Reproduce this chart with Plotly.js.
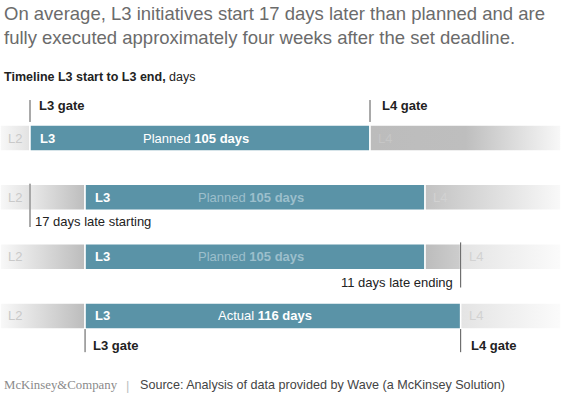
<!DOCTYPE html>
<html>
<head>
<meta charset="utf-8">
<script src="https://cdn.plot.ly/plotly-3.0.1.min.js"></script>
<style>html,body{margin:0;padding:0;background:#fff;}#chart{width:561px;height:397px;}</style>
</head>
<body>
<div id="chart"></div>
<script>
// ---- data ----
const plannedDays = 105;
const startDelay = 17;
const endDelay = 11;
const actualDays = 116;
const rowNames = ['Planned', 'Late start', 'Late end', 'Actual'];
const titleLines = ['On average, L3 initiatives start 17 days later than planned and are',
                    'fully executed approximately four weeks after the set deadline.'];
const subtitleBold = 'Timeline L3 start to L3 end,';
const subtitleRest = ' days';
const sourceText = 'Source: Analysis of data provided by Wave (a McKinsey Solution)';

// ---- geometry (axes) ----
const W = 561, H = 397;
const pxPerDay = 340 / plannedDays;
const xMin = -30 / pxPerDay, xMax = (W - 30) / pxPerDay;
const rowPx = 59.33, row0Px = 138;
const yTop = -row0Px / rowPx, yBot = (H - row0Px) / rowPx;
const half = 0.219;

const TEAL = '#5a93a7';
const L2light = [[0, '#f8f8f8'], [1, '#e2e2e2']];
const L2dark = [[0, '#f9f9f9'], [1, '#bcbcbc']];
const L4dark = [[0, '#bcbcbc'], [0.5, '#bebebe'], [1, '#f8f8f8']];
const L4mid = [[0, '#c2c2c2'], [1, '#f9f9f9']];
const L4light = [[0, '#e4e4e4'], [1, '#fbfbfb']];
const delayGrey = [[0, '#e9e9e9'], [1, '#bdbdbd']];
const lateGrey = [[0, '#bcbcbc'], [1, '#cdcdcd']];

const plannedEnd1 = startDelay + plannedDays;
const actualEnd = startDelay + actualDays;

const segments = [
  // row, from, to, fill
  [0, xMin, 0, L2light], [0, 0, plannedDays, TEAL], [0, plannedDays, xMax, L4dark],
  [1, xMin, 0, L2light], [1, 0, startDelay, delayGrey], [1, startDelay, plannedEnd1, TEAL], [1, plannedEnd1, xMax, L4mid],
  [2, xMin, startDelay, L2dark], [2, startDelay, plannedEnd1, TEAL], [2, plannedEnd1, actualEnd, lateGrey], [2, actualEnd, xMax, L4light],
  [3, xMin, startDelay, L2dark], [3, startDelay, actualEnd, TEAL], [3, actualEnd, xMax, L4light]
];

const traces = [];
segments.forEach(s => {
  const [r, a, b, fill] = s;
  const t = {
    type: 'scatter', mode: 'lines', fill: 'toself',
    x: [a, b, b, a, a], y: [r - half, r - half, r + half, r + half, r - half],
    line: {color: '#ffffff', width: 1.5}, hoverinfo: 'skip', showlegend: false
  };
  if (typeof fill === 'string') t.fillcolor = fill;
  else t.fillgradient = {type: 'horizontal', colorscale: fill, start: a, stop: b};
  traces.push(t);
});

// gate / marker lines
const vlines = [
  [0, -0.64, -0.27], [plannedDays, -0.64, -0.27],
  [0, 1 - 0.23, 1 + 0.50],
  [actualEnd, 2 - 0.24, 2 + 0.52],
  [startDelay, 3 + 0.22, 3 + 0.61], [actualEnd, 3 + 0.22, 3 + 0.61]
];
vlines.forEach(v => {
  traces.push({type: 'scatter', mode: 'lines', x: [v[0], v[0]], y: [v[1], v[2]],
    line: {color: '#555555', width: 1}, hoverinfo: 'skip', showlegend: false});
});

const F = 'Liberation Sans, Arial, Helvetica, sans-serif';
const ann = [];
function A(o) { ann.push(Object.assign({showarrow: false, font: {family: F, size: 13, color: '#222'}}, o)); }
function py(p) { return 1 - p / H; }

// title & subtitle
A({xref: 'paper', yref: 'paper', x: 0.003, y: py(1), xanchor: 'left', yanchor: 'top', align: 'left',
   text: titleLines.join('<br>'), font: {family: F, size: 18.5, color: '#6b6b6b'}});
A({xref: 'paper', yref: 'paper', x: 0.003, y: py(77), xanchor: 'left', yanchor: 'middle',
   text: '<b>' + subtitleBold + '</b>' + subtitleRest, font: {family: F, size: 12.5, color: '#222'}});

// gate labels
A({x: 0, y: -0.54, xshift: 7, xanchor: 'left', yanchor: 'middle', text: '<b>L3 gate</b>'});
A({x: plannedDays, y: -0.54, xshift: 10, xanchor: 'left', yanchor: 'middle', text: '<b>L4 gate</b>'});
A({x: startDelay, y: 3 + 0.49, xshift: 6, xanchor: 'left', yanchor: 'middle', text: '<b>L3 gate</b>'});
A({x: actualEnd, y: 3 + 0.49, xshift: 8, xanchor: 'left', yanchor: 'middle', text: '<b>L4 gate</b>'});

// in-bar labels
const l3Start = [0, startDelay, startDelay, startDelay];
const l4Start = [plannedDays, plannedEnd1, actualEnd, actualEnd];
for (let r = 0; r < 4; r++) {
  A({x: xMin, y: r, xshift: 6, xanchor: 'left', yanchor: 'middle', text: 'L2', font: {family: F, size: 13, color: '#c9c9c9'}});
  A({x: l3Start[r], y: r, xshift: 8, xanchor: 'left', yanchor: 'middle', text: '<b>L3</b>', font: {family: F, size: 13, color: '#ffffff'}});
  A({x: l4Start[r], y: r, xshift: 6, xanchor: 'left', yanchor: 'middle', text: 'L4', font: {family: F, size: 13, color: r === 0 ? '#c6c6c6' : '#d2d2d2'}});
}
A({x: plannedDays / 2, y: 0, xshift: -4, yanchor: 'middle', text: 'Planned <b>' + plannedDays + ' days</b>', font: {family: F, size: 13, color: '#ffffff'}});
A({x: startDelay + plannedDays / 2, y: 1, xshift: -4, yanchor: 'middle', text: 'Planned <b>' + plannedDays + ' days</b>', font: {family: F, size: 13, color: '#9cbfcc'}});
A({x: startDelay + plannedDays / 2, y: 2, xshift: -4, yanchor: 'middle', text: 'Planned <b>' + plannedDays + ' days</b>', font: {family: F, size: 13, color: '#9cbfcc'}});
A({x: startDelay + actualDays / 2, y: 3, xshift: -8, yanchor: 'middle', text: 'Actual <b>' + actualDays + ' days</b>', font: {family: F, size: 13, color: '#ffffff'}});

// delay notes
A({x: 0, y: 1 + 0.41, xshift: 3, xanchor: 'left', yanchor: 'middle', text: startDelay + ' days late starting'});
A({x: actualEnd, y: 2 + 0.44, xshift: -6, xanchor: 'right', yanchor: 'middle', text: endDelay + ' days late ending'});

// footer
A({xref: 'paper', yref: 'paper', x: 0.004, y: py(385), xanchor: 'left', yanchor: 'middle',
   text: 'McKinsey&amp;Company', font: {family: 'Liberation Serif, Times New Roman, serif', size: 12.8, color: '#8a8a8a'}});
A({xref: 'paper', yref: 'paper', x: 128 / W, y: py(385), xanchor: 'center', yanchor: 'middle',
   text: '|', font: {family: F, size: 13, color: '#c0c0c0'}});
A({xref: 'paper', yref: 'paper', x: 138 / W, y: py(385), xanchor: 'left', yanchor: 'middle',
   text: sourceText, font: {family: F, size: 12.6, color: '#444'}});

const layout = {
  width: W, height: H,
  margin: {l: 0, r: 0, t: 0, b: 0, pad: 0},
  paper_bgcolor: '#ffffff', plot_bgcolor: '#ffffff',
  xaxis: {range: [xMin, xMax], visible: false, fixedrange: true},
  yaxis: {range: [yBot, yTop], visible: false, fixedrange: true},
  annotations: ann, showlegend: false, hovermode: false
};
Plotly.newPlot('chart', traces, layout, {staticPlot: true, displayModeBar: false});
</script>
</body>
</html>
